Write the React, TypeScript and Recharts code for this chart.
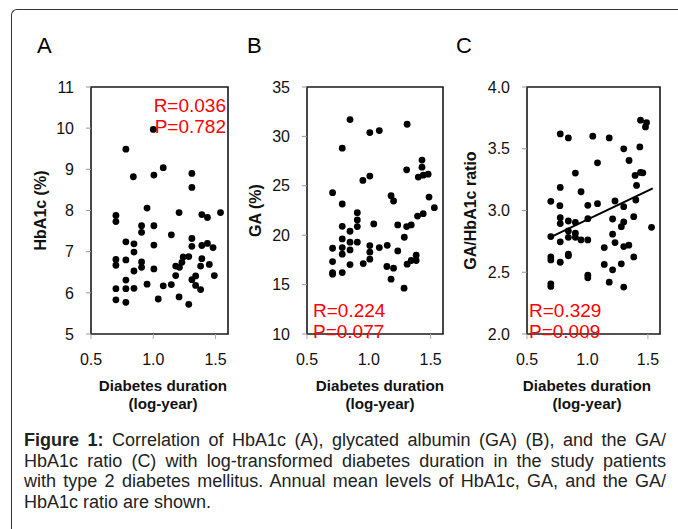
import React from 'react';
import { ScatterChart, Scatter, XAxis, YAxis, ReferenceArea, ReferenceLine } from 'recharts';

// ---------- data ----------
const xTicks = [0.5, 1.0, 1.5];
const xDomain: [number, number] = [0.5, 1.6];
const hba1cTicks = [5, 6, 7, 8, 9, 10, 11];
const gaTicks = [10, 15, 20, 25, 30, 35];
const ratioTicks = [2.0, 2.5, 3.0, 3.5, 4.0];

const hba1cRaw = [
  [1.0, 9.97], [0.78, 9.49], [1.08, 9.04], [0.84, 8.82], [1.005, 8.86], [1.31, 8.9], [1.31, 8.56],
  [0.7, 7.88], [0.7, 7.73], [0.95, 8.06], [0.906, 7.63], [0.906, 7.47], [1.005, 7.63], [1.207, 7.95],
  [1.39, 7.9], [1.435, 7.83], [1.54, 7.95], [1.145, 7.41], [0.78, 7.24], [0.845, 7.19], [0.845, 6.99],
  [1.005, 7.16], [1.31, 7.32], [1.31, 7.13], [1.39, 7.15], [1.435, 7.2], [1.48, 7.1], [0.7, 6.81],
  [0.7, 6.67], [0.78, 6.8], [0.906, 6.75], [0.906, 6.62], [0.845, 6.53], [1.005, 6.58], [1.18, 6.65],
  [1.21, 6.62], [1.23, 6.74], [1.24, 6.87], [1.285, 6.88], [1.39, 6.83], [1.38, 6.65], [1.45, 6.69],
  [1.18, 6.42], [1.34, 6.41], [1.31, 6.32], [1.49, 6.42], [0.78, 6.31], [0.7, 6.1], [0.78, 6.1],
  [0.845, 6.11], [0.95, 6.21], [1.08, 6.17], [1.145, 6.2], [1.34, 6.18], [1.38, 6.08], [0.7, 5.83],
  [0.78, 5.77], [1.04, 5.85], [1.207, 5.9], [1.285, 5.72],
];

const gaRaw = [
  [0.848, 31.7], [1.31, 31.23], [1.008, 30.39], [1.085, 30.59], [0.785, 28.81], [1.43, 27.6],
  [1.43, 26.89], [1.4, 25.88], [1.44, 26.08], [1.48, 26.18], [1.306, 26.62], [1.008, 25.98],
  [0.952, 25.54], [0.707, 24.3], [1.18, 24.0], [1.2, 23.46], [1.487, 23.86], [1.53, 22.79],
  [0.785, 23.16], [0.907, 22.28], [0.907, 21.54], [0.907, 20.87], [1.04, 21.14], [0.785, 20.9],
  [0.848, 20.4], [1.234, 21.04], [1.306, 20.87], [1.343, 21.04], [1.394, 21.94], [1.44, 22.18],
  [0.707, 18.68], [0.785, 19.62], [0.785, 18.75], [0.785, 18.08], [0.848, 19.29], [0.848, 18.51],
  [0.907, 19.29], [1.008, 18.95], [1.008, 18.28], [1.085, 18.75], [1.149, 18.98], [1.287, 19.79],
  [1.234, 18.41], [0.707, 17.33], [0.848, 17.03], [0.955, 17.13], [1.008, 17.57], [1.146, 16.83],
  [1.2, 16.66], [1.31, 17.07], [1.343, 17.44], [1.383, 17.97], [1.383, 17.44], [0.707, 16.22],
  [0.707, 16.06], [0.785, 16.22], [1.18, 15.55], [1.285, 14.64],
];

const ratioRaw = [
  [1.439, 3.731], [1.489, 3.712], [1.48, 3.677], [0.775, 3.62], [0.842, 3.588], [1.044, 3.602],
  [1.18, 3.588], [1.433, 3.515], [1.3, 3.499], [1.344, 3.405], [1.083, 3.386], [0.9, 3.303],
  [1.439, 3.308], [1.394, 3.284], [1.406, 3.203], [1.458, 3.305], [0.775, 3.187], [0.947, 3.152],
  [0.697, 3.074], [0.772, 3.039], [1.003, 3.042], [1.083, 3.055], [1.228, 3.077], [1.4, 3.085],
  [1.3, 3.031], [0.775, 2.942], [1.208, 2.931], [1.383, 2.95], [0.775, 2.894], [0.842, 2.915],
  [0.9, 2.904], [1.003, 2.934], [1.3, 2.907], [1.28, 2.869], [1.53, 2.864], [0.842, 2.834],
  [0.9, 2.816], [0.697, 2.789], [0.842, 2.783], [0.9, 2.783], [0.947, 2.762], [1.003, 2.762],
  [1.208, 2.808], [0.775, 2.746], [1.228, 2.74], [1.3, 2.708], [1.342, 2.719], [1.139, 2.7],
  [1.383, 2.624], [0.697, 2.624], [0.697, 2.6], [0.842, 2.646], [0.842, 2.633], [0.775, 2.581],
  [1.139, 2.563], [1.28, 2.568], [1.208, 2.52], [1.003, 2.476], [1.003, 2.455], [1.18, 2.42],
  [0.697, 2.406], [0.697, 2.385], [1.3, 2.38],
];

const ratioTrend = [
  { x: 0.7, y: 2.787 },
  { x: 1.54, y: 3.179 },
];

const toPoints = (raw: number[][]) => raw.map(([x, y]) => ({ x, y }));
const hba1cPoints = toPoints(hba1cRaw);
const gaPoints = toPoints(gaRaw);
const ratioPoints = toPoints(ratioRaw);

// ---------- styling ----------
const FONT = "'Liberation Sans', Arial, Helvetica, sans-serif";
const NARROW = "'Liberation Sans Narrow', 'Arial Narrow', 'Liberation Sans', Arial, sans-serif";
const CHART_TOP = 87;
const PLOT_BOTTOM = 334;
const CHART_H = 420;

const Dot = (props: any) => <circle cx={props.cx} cy={props.cy} r={3.4} fill="#000" />;

const tickStyle = { fontSize: 16, fill: '#111', fontFamily: FONT };

type PanelProps = {
  left: number;
  width: number;
  yAxisWidth: number;
  rightMargin: number;
  points: { x: number; y: number }[];
  yDomain: [number, number];
  yTicks: number[];
  yFmt: (v: number) => string;
  yTitle: string;
  yTitleX: number;
  xTitleX: number;
  trend?: { x: number; y: number }[];
};

const Panel = (p: PanelProps) => {
  const xTitle = () => (
    <g fontFamily={FONT} fontWeight="bold" fontSize={15.2} fill="#111" textAnchor="middle">
      <text x={p.xTitleX} y={391}>Diabetes duration</text>
      <text x={p.xTitleX} y={408.5}>(log-year)</text>
    </g>
  );
  const yTitle = () => {
    const cy = (CHART_TOP + PLOT_BOTTOM) / 2;
    return (
      <text
        x={p.yTitleX}
        y={cy}
        transform={`rotate(-90, ${p.yTitleX}, ${cy})`}
        textAnchor="middle"
        dominantBaseline="central"
        fontFamily={FONT}
        fontWeight="bold"
        fontSize={16}
        fill="#111"
      >
        {p.yTitle}
      </text>
    );
  };
  return (
    <div style={{ position: 'absolute', left: p.left, top: 0, width: p.width, height: CHART_H }}>
      <ScatterChart
        width={p.width}
        height={CHART_H}
        margin={{ top: CHART_TOP, right: p.rightMargin, bottom: 0, left: 0 }}
      >
        <XAxis
          type="number"
          dataKey="x"
          domain={xDomain}
          ticks={xTicks}
          allowDataOverflow
          height={CHART_H - PLOT_BOTTOM}
          tickFormatter={(v: number) => v.toFixed(1)}
          tick={tickStyle}
          tickSize={5}
          tickMargin={15}
          axisLine={false}
          tickLine={{ stroke: '#aaa' }}
          label={xTitle}
        />
        <YAxis
          type="number"
          dataKey="y"
          domain={p.yDomain}
          ticks={p.yTicks}
          allowDataOverflow
          width={p.yAxisWidth}
          tickFormatter={p.yFmt}
          tick={tickStyle}
          tickSize={5}
          tickMargin={12}
          axisLine={false}
          tickLine={{ stroke: '#999' }}
          label={yTitle}
        />
        <ReferenceArea
          x1={xDomain[0]}
          x2={xDomain[1]}
          y1={p.yDomain[0]}
          y2={p.yDomain[1]}
          fill="none"
          stroke="#1a1a1a"
          strokeWidth={1.6}
          ifOverflow="visible"
        />
        <Scatter data={p.points} shape={Dot} isAnimationActive={false} />
        {p.trend && (
          <ReferenceLine
            segment={[p.trend[0], p.trend[1]]}
            stroke="#000"
            strokeWidth={2}
          />
        )}
      </ScatterChart>
    </div>
  );
};

const captionLine: React.CSSProperties = {
  textAlign: 'justify',
  textAlignLast: 'justify',
  whiteSpace: 'nowrap',
  height: 20.7,
  lineHeight: '20.7px',
};

export default function App() {
  return (
    <div
      style={{
        position: 'absolute',
        left: 0,
        top: 0,
        width: 678,
        height: 529,
        overflow: 'hidden',
        background: '#fff',
        fontFamily: FONT,
      }}
    >
      <div
        style={{
          position: 'absolute',
          left: 11,
          top: 9,
          width: 800,
          height: 700,
          borderTop: '1.5px solid #333',
          borderLeft: '1.5px solid #333',
          borderTopLeftRadius: 6,
        }}
      />
      <Panel
        left={0}
        width={240}
        yAxisWidth={91}
        rightMargin={12}
        points={hba1cPoints}
        yDomain={[5, 11]}
        yTicks={hba1cTicks}
        yFmt={(v) => String(v)}
        yTitle="HbA1c (%)"
        yTitleX={40}
        xTitleX={163}
      />
      <Panel
        left={220}
        width={230}
        yAxisWidth={87}
        rightMargin={7}
        points={gaPoints}
        yDomain={[10, 35]}
        yTicks={gaTicks}
        yFmt={(v) => String(v)}
        yTitle="GA (%)"
        yTitleX={35}
        xTitleX={160}
      />
      <Panel
        left={440}
        width={238}
        yAxisWidth={87}
        rightMargin={18}
        points={ratioPoints}
        yDomain={[2, 4]}
        yTicks={ratioTicks}
        yFmt={(v) => v.toFixed(1)}
        yTitle="GA/HbA1c ratio"
        yTitleX={30}
        xTitleX={147}
        trend={ratioTrend}
      />
      <svg
        width={678}
        height={529}
        style={{ position: 'absolute', left: 0, top: 0, pointerEvents: 'none' }}
        fontFamily={FONT}
      >
        <text x={37} y={53} fontSize={22} fill="#000">A</text>
        <text x={247} y={53} fontSize={22} fill="#000">B</text>
        <text x={456} y={53} fontSize={22} fill="#000">C</text>
        <g fill="#ff0000" fontSize={19}>
          <text x={226} y={112} textAnchor="end">R=0.036</text>
          <text x={226} y={133} textAnchor="end">P=0.782</text>
          <text x={313} y={317}>R=0.224</text>
          <text x={313} y={338}>P=0.077</text>
          <text x={529} y={317}>R=0.329</text>
          <text x={529} y={338}>P=0.009</text>
        </g>
      </svg>
      <div
        style={{
          position: 'absolute',
          left: 24,
          top: 430,
          width: 642,
          fontFamily: NARROW,
          fontSize: 18,
          color: '#222',
        }}
      >
        <div style={captionLine}>
          <b>Figure 1:</b> Correlation of HbA1c (A), glycated albumin (GA) (B), and the GA/
        </div>
        <div style={captionLine}>
          HbA1c ratio (C) with log-transformed diabetes duration in the study patients
        </div>
        <div style={captionLine}>
          with type 2 diabetes mellitus. Annual mean levels of HbA1c, GA, and the GA/
        </div>
        <div style={{ ...captionLine, textAlignLast: 'left' }}>HbA1c ratio are shown.</div>
      </div>
    </div>
  );
}
